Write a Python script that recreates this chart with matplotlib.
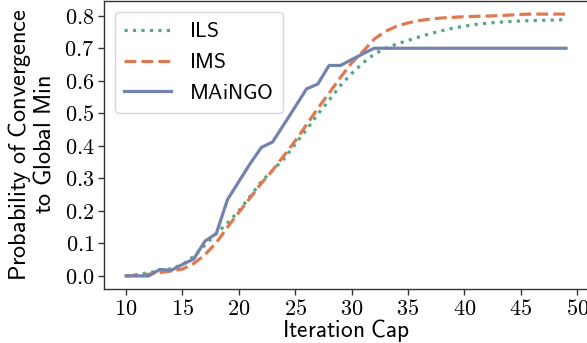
import matplotlib
matplotlib.use("Agg")
import matplotlib.pyplot as plt
from matplotlib.ticker import FuncFormatter, MultipleLocator

plt.rcParams['mathtext.fontset'] = 'cm'

iterations = list(range(10, 50))
ils = [0.0, 0.004, 0.01, 0.015, 0.022, 0.035, 0.06, 0.095, 0.13, 0.163,
       0.2, 0.245, 0.29, 0.325, 0.36, 0.405, 0.45, 0.497, 0.54, 0.585,
       0.622, 0.655, 0.682, 0.70, 0.713, 0.724, 0.735, 0.745, 0.754, 0.762,
       0.768, 0.773, 0.777, 0.78, 0.782, 0.784, 0.785, 0.786, 0.787, 0.788]
ims = [0.0, 0.002, 0.005, 0.01, 0.015, 0.021, 0.038, 0.065, 0.102, 0.15,
       0.195, 0.24, 0.285, 0.325, 0.37, 0.415, 0.465, 0.515, 0.562, 0.61,
       0.655, 0.69, 0.728, 0.752, 0.768, 0.778, 0.785, 0.79, 0.793, 0.795,
       0.797, 0.798, 0.799, 0.80, 0.802, 0.804, 0.805, 0.805, 0.805, 0.805]
maingo = [0.0, 0.0, 0.0, 0.02, 0.017, 0.035, 0.052, 0.107, 0.13, 0.235,
          0.29, 0.345, 0.395, 0.412, 0.466, 0.52, 0.575, 0.59, 0.647, 0.647,
          0.665, 0.683, 0.70, 0.70, 0.70, 0.70, 0.70, 0.70, 0.70, 0.70,
          0.70, 0.70, 0.70, 0.70, 0.70, 0.70, 0.70, 0.70, 0.70, 0.70]

labels = ["ILS", "IMS", "MAiNGO"]
colors = ["#55a688", "#de7a52", "#7383ad"]

fig = plt.figure(figsize=(5.87, 3.43), dpi=100)
ax = fig.add_axes([104/587, 1-289/343, (588-104)/587, (289-1)/343])

ax.plot(iterations, ils, linestyle=':', color=colors[0], lw=2.3,
        label=r"$\mathsf{%s}$" % labels[0])
ax.plot(iterations, ims, linestyle='--', color=colors[1], lw=2.3,
        label=r"$\mathsf{%s}$" % labels[1])
ax.plot(iterations, maingo, linestyle='-', color=colors[2], lw=2.3,
        label=r"$\mathsf{%s}$" % labels[2])

ax.xaxis.set_major_locator(MultipleLocator(5))
ax.yaxis.set_major_locator(MultipleLocator(0.1))
ax.xaxis.set_major_formatter(FuncFormatter(lambda v, p: r"$%d$" % round(v)))
ax.yaxis.set_major_formatter(FuncFormatter(lambda v, p: r"$%.1f$" % v))
ax.tick_params(labelsize=16, length=4, width=1, color='#333333', pad=3)

for s in ax.spines.values():
    s.set_color('#333333')
    s.set_linewidth(1.0)

ax.set_xlabel(r"$\mathsf{Iteration\ Cap}$", fontsize=16.8, labelpad=-1)
ax.set_ylabel("$\\mathsf{Probability\\ of\\ Convergence}$\n$\\mathsf{to\\ Global\\ Min}$",
              fontsize=17.5, labelpad=6, linespacing=0.95)

ax.legend(loc='upper left', fontsize=15.5, handlelength=2.15, labelspacing=0.5,
          handletextpad=0.85, borderpad=0.45, borderaxespad=0.5)

fig.savefig("out.png", dpi=100)
